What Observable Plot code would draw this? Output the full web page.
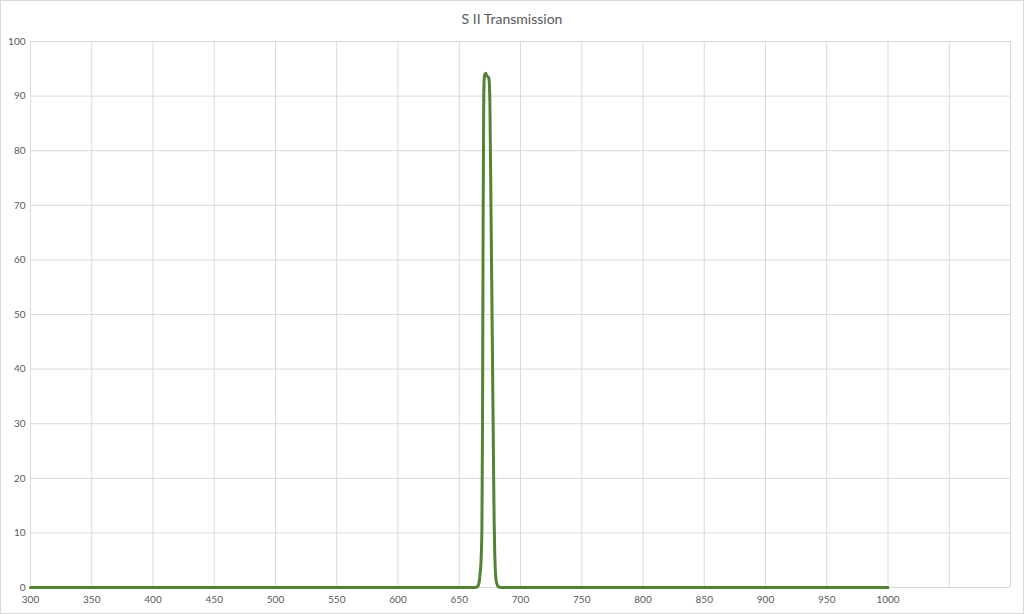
<!DOCTYPE html>
<html>
<head>
<meta charset="utf-8">
<script src="https://cdn.jsdelivr.net/npm/d3@7"></script>
<script src="https://cdn.jsdelivr.net/npm/@observablehq/plot@0.6"></script>
<style>
  html, body { margin: 0; padding: 0; background: #fff; }
  #frame { position: relative; width: 1022px; height: 612px; border: 1px solid #d9d9d9; overflow: hidden; }
  #title { height: 29px; line-height: 35px; text-align: center; font-family: Lato, "Open Sans", sans-serif; font-size: 14px; color: #595959; }
  #chart svg { display: block; }
</style>
</head>
<body>
<div id="frame">
  <div id="title">S II Transmission</div>
  <div id="chart"></div>
</div>
<script>
const wavelength = [300, 400, 500, 600, 650, 660, 664, 665, 666, 667, 668, 668.5, 669, 669.5, 670, 670.5, 671, 671.7, 672.3, 673, 674, 674.5, 675, 676, 677, 678, 678.5, 679, 679.5, 680, 681, 682, 684, 700, 750, 800, 850, 900, 950, 1000];
const transmission = [0, 0, 0, 0, 0, 0, 0.05, 0.2, 0.7, 2.5, 6, 11, 30, 68, 90, 93.5, 94, 94.2, 93.8, 93.6, 93.4, 92.5, 89, 67, 45, 22, 12, 6, 3, 1.5, 0.5, 0.1, 0, 0, 0, 0, 0, 0, 0, 0];
const xLabelTicks = d3.range(300, 1001, 50);
const xGridTicks = d3.range(300, 1101, 50);
const yTicks = d3.range(0, 101, 10);

const data = wavelength.map((w, i) => ({w, t: transmission[i]}));

const chart = Plot.plot({
  width: 1022,
  height: 583,
  marginTop: 11,
  marginLeft: 29,
  marginRight: 13,
  marginBottom: 26,
  style: {fontFamily: "Lato, 'Open Sans', sans-serif", fontSize: "10px", color: "#595959", background: "#fff"},
  x: {domain: [300, 1100], ticks: xLabelTicks, tickSize: 0, tickPadding: 8, label: null, tickFormat: d => String(d)},
  y: {domain: [0, 100], ticks: yTicks, tickSize: 0, tickPadding: 5, label: null},
  marks: [
    Plot.ruleX(xGridTicks, {stroke: "#d9d9d9", strokeWidth: 1}),
    Plot.ruleY(yTicks, {stroke: "#d9d9d9", strokeWidth: 1}),
    Plot.line(data, {x: "w", y: "t", stroke: "#548235", strokeWidth: 3, curve: "monotone-x"}),
    Plot.axisX({ticks: xLabelTicks, tickSize: 0, tickPadding: 8, label: null, tickFormat: d => String(d)}),
    Plot.axisY({ticks: yTicks, tickSize: 0, tickPadding: 5, label: null})
  ]
});
document.getElementById("chart").appendChild(chart);
</script>
</body>
</html>
